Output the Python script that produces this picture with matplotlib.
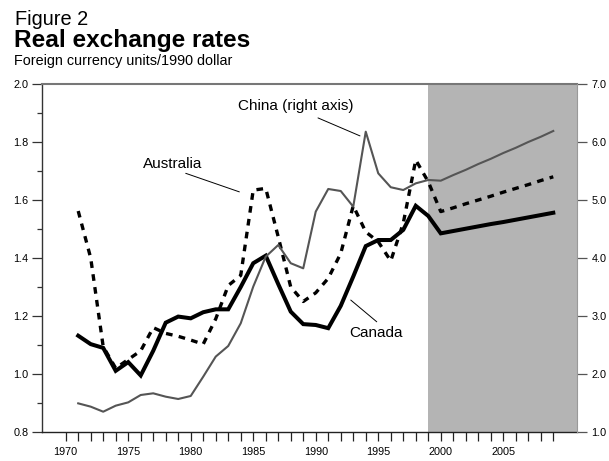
import matplotlib
matplotlib.use("Agg")
import matplotlib.pyplot as plt
from matplotlib.ticker import MultipleLocator, FixedLocator

plt.rcParams['font.family'] = ['Liberation Sans', 'DejaVu Sans']

years = list(range(1971, 2010))

# left axis (foreign currency units per 1990 US dollar)
canada = [1.132, 1.103, 1.090, 1.011, 1.041, 0.995, 1.080, 1.177, 1.198, 1.192,
          1.213, 1.223, 1.223, 1.300, 1.382, 1.408, 1.310, 1.215, 1.172, 1.169,
          1.158, 1.235, 1.336, 1.441, 1.462, 1.462, 1.497, 1.580, 1.545, 1.485,
          1.493, 1.501, 1.509, 1.517, 1.524, 1.532, 1.540, 1.548, 1.556]
australia = [1.562, 1.400, 1.094, 1.020, 1.050, 1.080, 1.160, 1.140, 1.130, 1.117,
             1.103, 1.190, 1.305, 1.340, 1.634, 1.640, 1.473, 1.300, 1.250, 1.280,
             1.330, 1.416, 1.580, 1.490, 1.456, 1.390, 1.520, 1.738, 1.663, 1.560,
             1.573, 1.587, 1.600, 1.613, 1.627, 1.640, 1.653, 1.667, 1.680]
# right axis
china = [1.494, 1.437, 1.350, 1.454, 1.511, 1.638, 1.667, 1.609, 1.569, 1.621,
         1.954, 2.300, 2.483, 2.874, 3.506, 4.023, 4.224, 3.910, 3.822, 4.800,
         5.190, 5.155, 4.885, 6.178, 5.460, 5.220, 5.172, 5.287, 5.345, 5.333,
         5.430, 5.520, 5.620, 5.710, 5.810, 5.900, 6.000, 6.090, 6.190]

forecast_start = 1999
year_labels = ['1970', '1975', '1980', '1985', '1990', '1995', '2000', '2005']

fig = plt.figure(figsize=(6.09, 4.61), dpi=100)
ax = fig.add_axes([0.0695, 0.0629, 0.8780, 0.7549])
ax2 = ax.twinx()

# projection period shading
ax.axvspan(forecast_start, 2012, color='#b4b4b4', lw=0, zorder=0)

ax.plot(years, canada, color='black', lw=2.9, solid_joinstyle='miter', zorder=3)
ax.plot(years, australia, color='black', lw=2.4, dashes=(2.0, 1.9),
        dash_capstyle='butt', zorder=3)
ax2.plot(years, china, color='#555555', lw=1.5, zorder=3)

ax.set_xlim(1968.13, 2010.9)
ax.set_ylim(0.8, 2.0)
ax2.set_ylim(1.0, 7.0)

ax.xaxis.set_minor_locator(FixedLocator(list(range(1970, 2010))))
ax.set_xticks([int(s) for s in year_labels])
ax.set_xticklabels(year_labels)
ax.yaxis.set_major_locator(MultipleLocator(0.2))
ax.yaxis.set_minor_locator(MultipleLocator(0.1))
ax.yaxis.set_major_formatter(plt.FormatStrFormatter('%.1f'))
ax2.yaxis.set_major_locator(MultipleLocator(1.0))
ax2.yaxis.set_major_formatter(plt.FormatStrFormatter('%.1f'))

ax.tick_params(axis='x', which='both', direction='out', length=6.5, width=0.9,
               labelsize=7.8, pad=4.5, color='#222222')
ax.tick_params(axis='y', which='major', direction='out', length=7.5, width=0.9,
               labelsize=7.8, pad=2.5, color='#333333')
ax.tick_params(axis='y', which='minor', direction='out', length=3.6, width=0.9,
               color='#333333')
ax2.tick_params(axis='y', which='major', direction='out', length=7, width=0.9,
                labelsize=7.8, pad=3.5, color='#555555')

for a in (ax, ax2):
    for side in ('top', 'left', 'bottom', 'right'):
        a.spines[side].set_visible(False)
ax.spines['left'].set_visible(True)
ax.spines['left'].set_color('#333333')
ax.spines['left'].set_linewidth(1.0)
ax.spines['bottom'].set_visible(True)
ax.spines['bottom'].set_color('#222222')
ax.spines['bottom'].set_linewidth(1.0)
ax.spines['top'].set_visible(True)
ax.spines['top'].set_color('#777777')
ax.spines['top'].set_linewidth(1.5)
ax2.spines['right'].set_visible(True)
ax2.spines['right'].set_color('#999999')
ax2.spines['right'].set_linewidth(0.8)

# labels with leader lines
line_kw = dict(arrowstyle='-', color='black', lw=0.7, shrinkA=0, shrinkB=0)
ax.text(1988.42, 1.924, 'China (right axis)', fontsize=11, ha='center', va='center')
ax.annotate('', xy=(1993.54, 1.821), xytext=(1990.18, 1.883), arrowprops=line_kw)
ax.text(1978.56, 1.724, 'Australia', fontsize=11, ha='center', va='center')
ax.annotate('', xy=(1983.89, 1.628), xytext=(1979.6, 1.692), arrowprops=line_kw)
ax.text(1994.82, 1.142, 'Canada', fontsize=11, ha='center', va='center')
ax.annotate('', xy=(1992.8, 1.255), xytext=(1994.88, 1.18), arrowprops=line_kw)

fig.text(0.0246, 0.946, 'Figure 2', fontsize=14.4, ha='left', va='baseline')
fig.text(0.023, 0.899, 'Real exchange rates', fontsize=17.6, fontweight='bold',
         ha='left', va='baseline')
fig.text(0.023, 0.859, 'Foreign currency units/1990 dollar', fontsize=10.4,
         ha='left', va='baseline')

fig.savefig('out.png', dpi=100)
